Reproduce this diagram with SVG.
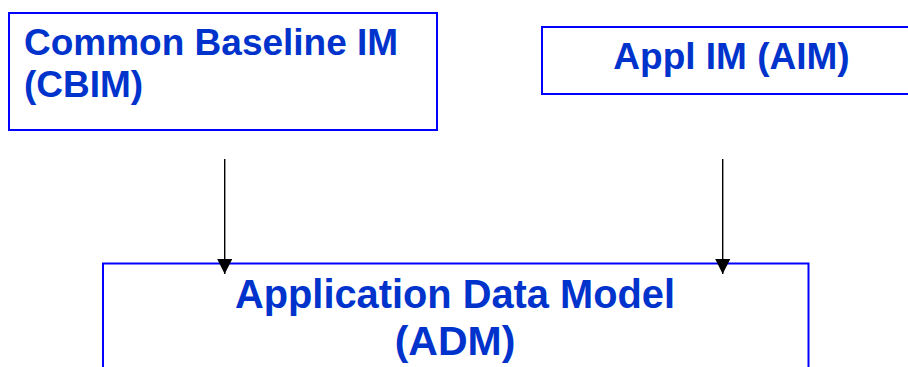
<svg xmlns="http://www.w3.org/2000/svg" width="908" height="367" viewBox="0 0 908 367">
<style>
.box{fill:#fff;stroke:#0000ff;stroke-width:2}
.t{font-family:"Liberation Sans",Arial,sans-serif;font-weight:bold;fill:#0033cc}
.c{stroke:#000;stroke-width:1.4;fill:none}
</style>
<defs>
<marker id="ah" viewBox="0 0 10 10" refX="10" refY="5" markerWidth="15" markerHeight="15" markerUnits="userSpaceOnUse" orient="auto">
<path d="M0,0 L10,5 L0,10 Z" fill="#000"/>
</marker>
</defs>
<rect width="908" height="367" fill="#fff"/>
<g id="cbim">
<rect class="box" x="9" y="13" width="428" height="117"/>
<text class="t" font-size="37" x="24" y="55">Common Baseline IM</text>
<text class="t" font-size="37" x="24" y="97">(CBIM)</text>
</g>
<g id="aim">
<rect class="box" x="542" y="27" width="400" height="67"/>
<text class="t" font-size="37" x="731.5" y="69" text-anchor="middle">Appl IM (AIM)</text>
</g>
<g id="adm">
<rect class="box" x="103" y="263.5" width="705.5" height="130"/>
<text class="t" font-size="41" x="455" y="308" text-anchor="middle" textLength="440" lengthAdjust="spacingAndGlyphs">Application Data Model</text>
<text class="t" font-size="41" x="455" y="355" text-anchor="middle">(ADM)</text>
</g>
<g id="connectors">
<line class="c" x1="224.7" y1="159" x2="224.7" y2="274" marker-end="url(#ah)"/>
<line class="c" x1="722.7" y1="159" x2="722.7" y2="274" marker-end="url(#ah)"/>
</g>
</svg>
